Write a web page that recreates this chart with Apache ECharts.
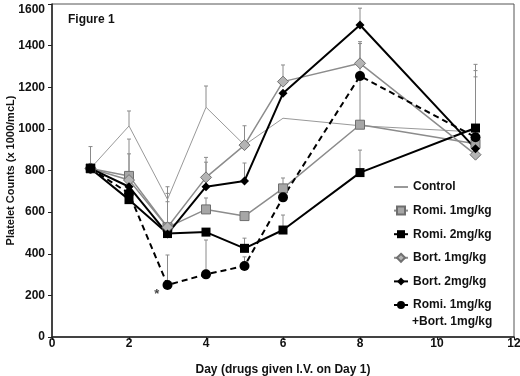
<!DOCTYPE html>
<html>
<head>
<meta charset="utf-8">
<script src="https://cdn.jsdelivr.net/npm/echarts@6/dist/echarts.min.js"></script>
<style>
  html, body { margin: 0; padding: 0; background: #fff; }
  #chart { width: 520px; height: 376px; }
</style>
</head>
<body>
<div id="chart"></div>
<script>
// days sampled
const days = [1, 2, 3, 4, 5, 6, 8, 11]

// mean platelet counts (x 1000/mcL)
const control = [810, 1014, 661, 1104, 922, 1051, 1015, 985]
const romi1 = [810, 774, 527, 613, 581, 714, 1020, 928]
const romi2 = [810, 660, 497, 504, 426, 514, 790, 1004]
const bort1 = [810, 754, 527, 767, 922, 1227, 1315, 876]
const bort2 = [810, 722, 495, 722, 750, 1171, 1499, 905]
const combo = [810, 690, 250, 301, 341, 671, 1254, 960]

// upper end of the error bars (null = none visible)
const controlErr = [915, 1086, 722, 1206, null, null, null, 1310]
const romi1Err = [null, 951, 650, 668, null, 764, 1410, 1280]
const romi2Err = [null, null, null, null, 475, 586, 898, null]
const bort1Err = [null, 880, 690, 863, 1015, 1307, 1419, 1250]
const bort2Err = [null, null, null, 840, 836, null, 1580, null]
const comboErr = [null, null, 394, 466, 385, null, null, null]

// significance mark
const starPoint = [2.72, 205]

const font = 'Liberation Sans, Arial, sans-serif'
const comboName = 'Romi. 1mg/kg\n+Bort. 1mg/kg'

function pairs(vals) {
    return days.map((d, i) => [d, vals[i]])
}

function errData(vals, tops) {
    const out = []
    days.forEach((d, i) => {
        if (tops[i] != null) out.push([d, vals[i], tops[i]])
    })
    return out
}

function errSeries(vals, tops) {
    return {
        type: 'custom',
        silent: true,
        z: 1,
        data: errData(vals, tops),
        renderItem(params, api) {
            const lo = api.coord([api.value(0), api.value(1)])
            const hi = api.coord([api.value(0), api.value(2)])
            const style = { stroke: '#8a8a8a', lineWidth: 1 }
            return {
                type: 'group',
                children: [
                    { type: 'line', shape: { x1: lo[0], y1: lo[1], x2: hi[0], y2: hi[1] }, style },
                    { type: 'line', shape: { x1: hi[0] - 2, y1: hi[1], x2: hi[0] + 2, y2: hi[1] }, style }
                ]
            }
        }
    }
}

function lineSeries(name, vals, opts) {
    return Object.assign({
        name,
        type: 'line',
        z: 3,
        data: pairs(vals),
        showSymbol: true
    }, opts)
}

const myChart = echarts.init(document.getElementById('chart'))

const option = {
    animation: false,
    backgroundColor: '#fff',
    textStyle: { fontFamily: font },
    grid: {
        left: 52,
        right: 6,
        top: 4,
        bottom: 39,
        outerBoundsMode: 'none',
        containLabel: false,
        show: true,
        borderColor: '#555',
        borderWidth: 1
    },
    graphic: [
        {
            type: 'text',
            left: 68,
            top: 14,
            style: { text: 'Figure 1', font: 'bold 12px ' + font, fill: '#111' }
        },
        {
            type: 'text',
            left: 412,
            top: 316,
            style: { text: '+Bort. 1mg/kg', font: 'bold 12px ' + font, fill: '#111' }
        }
    ],
    legend: {
        orient: 'vertical',
        left: 388,
        top: 176,
        itemWidth: 14,
        itemHeight: 10,
        itemGap: 11.6,
        textStyle: { fontSize: 12, fontWeight: 'bold', color: '#111', fontFamily: font },
        formatter(name) {
            return name.split('\n')[0]
        },
        data: [
            { name: 'Control', itemStyle: { color: 'rgba(0,0,0,0)', borderColor: 'rgba(0,0,0,0)' } },
            'Romi. 1mg/kg',
            'Romi. 2mg/kg',
            'Bort. 1mg/kg',
            'Bort. 2mg/kg',
            comboName
        ]
    },
    xAxis: {
        type: 'value',
        min: 0,
        max: 12,
        interval: 2,
        name: 'Day (drugs given I.V. on Day 1)',
        nameLocation: 'middle',
        nameGap: 27,
        nameMoveOverlap: false,
        nameTextStyle: { fontSize: 12, fontWeight: 'bold', color: '#111', fontFamily: font },
        axisLine: { lineStyle: { color: '#222', width: 1.5 } },
        axisTick: { show: true, length: 3, lineStyle: { color: '#222' } },
        axisLabel: { fontSize: 12, fontWeight: 'bold', color: '#111', margin: 1 },
        splitLine: { show: false }
    },
    yAxis: {
        type: 'value',
        min: 0,
        max: 1600,
        interval: 200,
        name: 'Platelet Counts (x 1000/mcL)',
        nameLocation: 'middle',
        nameGap: 36,
        nameMoveOverlap: false,
        nameTextStyle: { fontSize: 11, fontWeight: 'bold', color: '#111', fontFamily: font },
        axisLine: { show: true, lineStyle: { color: '#222', width: 1.5 } },
        axisTick: { show: true, length: 4, lineStyle: { color: '#222' } },
        axisLabel: {
            fontSize: 12,
            fontWeight: 'bold',
            color: '#111',
            margin: 7,
            verticalAlignMaxLabel: 'top',
            formatter: v => String(v)
        },
        splitLine: { show: false }
    },
    series: [
        errSeries(control, controlErr),
        errSeries(romi1, romi1Err),
        errSeries(romi2, romi2Err),
        errSeries(bort1, bort1Err),
        errSeries(bort2, bort2Err),
        errSeries(combo, comboErr),
        lineSeries('Control', control, {
            symbol: 'none',
            lineStyle: { color: '#999', width: 1 },
            itemStyle: { color: '#999' }
        }),
        lineSeries('Romi. 1mg/kg', romi1, {
            symbol: 'rect',
            symbolSize: 9,
            lineStyle: { color: '#8c8c8c', width: 1.5 },
            itemStyle: { color: '#a6a6a6', borderColor: '#6e6e6e', borderWidth: 1 }
        }),
        lineSeries('Romi. 2mg/kg', romi2, {
            symbol: 'rect',
            symbolSize: 9,
            lineStyle: { color: '#000', width: 2 },
            itemStyle: { color: '#000' }
        }),
        lineSeries('Bort. 1mg/kg', bort1, {
            symbol: 'diamond',
            symbolSize: 11,
            lineStyle: { color: '#8c8c8c', width: 1.5 },
            itemStyle: { color: '#b4b4b4', borderColor: '#707070', borderWidth: 1 }
        }),
        lineSeries('Bort. 2mg/kg', bort2, {
            symbol: 'diamond',
            symbolSize: 9,
            lineStyle: { color: '#000', width: 2 },
            itemStyle: { color: '#000' }
        }),
        lineSeries(comboName, combo, {
            symbol: 'circle',
            symbolSize: 10,
            lineStyle: { color: '#000', width: 2, type: [6, 4] },
            itemStyle: { color: '#000' }
        }),
        {
            type: 'scatter',
            silent: true,
            symbolSize: 0,
            data: [starPoint],
            label: {
                show: true,
                position: 'inside',
                formatter: '*',
                fontSize: 13,
                fontWeight: 'bold',
                color: '#111'
            }
        }
    ]
}

myChart.setOption(option)
</script>
</body>
</html>
